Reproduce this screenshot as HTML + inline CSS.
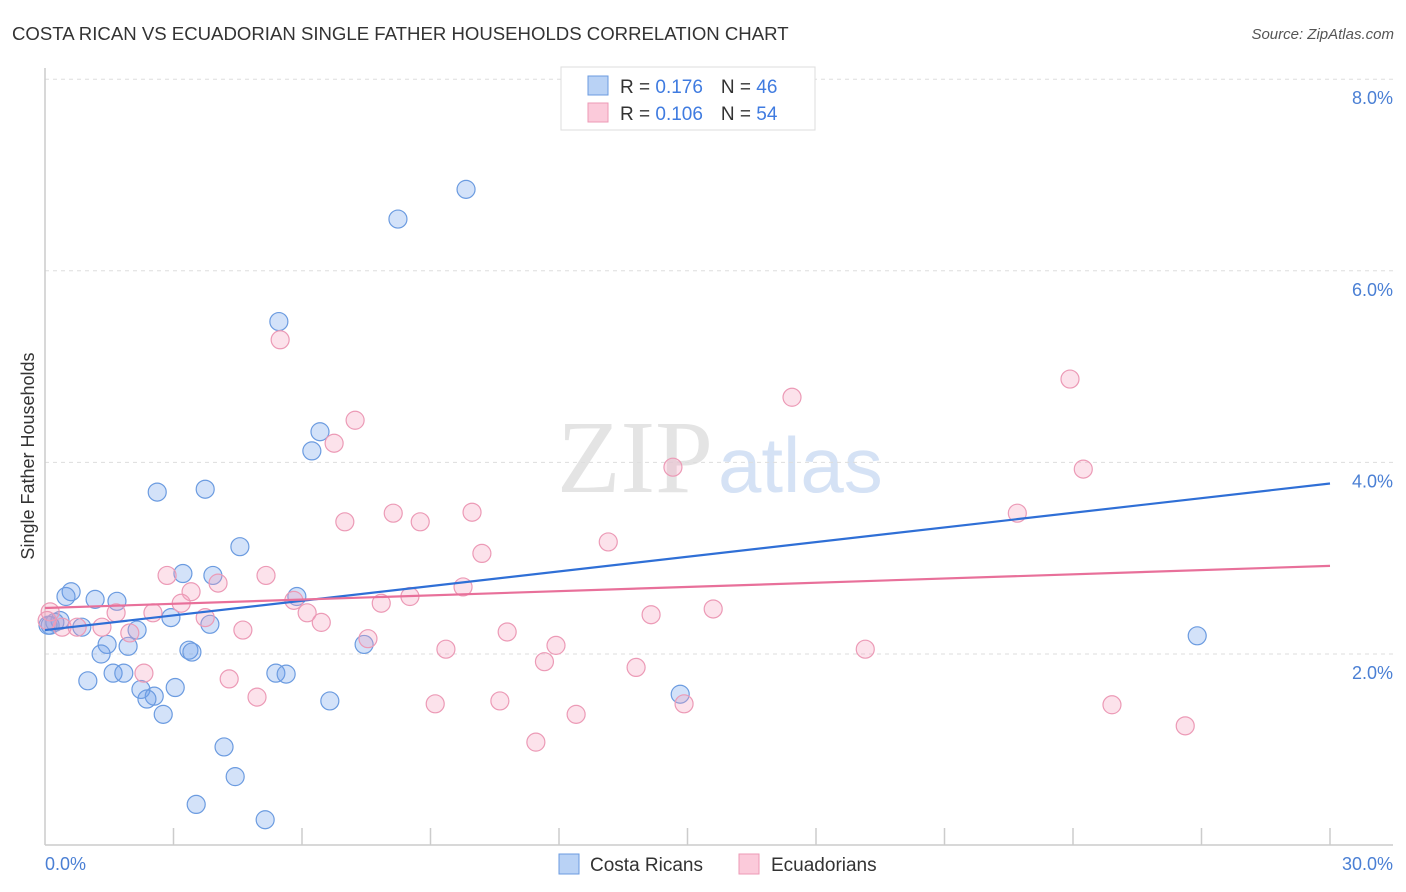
<!DOCTYPE html>
<html><head><meta charset="utf-8"><style>
body{margin:0;background:#fff;font-family:"Liberation Sans",sans-serif;}
svg{display:block}
</style></head><body>
<svg id="chart" width="1406" height="892">
<text x="12" y="40" font-size="18.6" fill="#333">COSTA RICAN VS ECUADORIAN SINGLE FATHER HOUSEHOLDS CORRELATION CHART</text>
<text x="1394" y="39" font-size="15" fill="#555" font-style="italic" text-anchor="end">Source: ZipAtlas.com</text>
<text x="713" y="492" font-size="104" fill="#e4e4e4" font-family="Liberation Serif" text-anchor="end">ZIP</text>
<text x="718" y="492" font-size="78" fill="#d5e2f5">atlas</text>
<g id="grid"></g>
<line x1="45" y1="68" x2="45" y2="845" stroke="#ccc" stroke-width="1.5"/>
<line x1="45" y1="845" x2="1393" y2="845" stroke="#ccc" stroke-width="1.5"/>
<text transform="translate(34,456) rotate(-90)" font-size="18" fill="#333" text-anchor="middle">Single Father Households</text>
<text x="45" y="870" font-size="18" fill="#4a7fd4">0.0%</text>
<text x="1393" y="870" font-size="18" fill="#4a7fd4" text-anchor="end">30.0%</text>
<g id="pts"></g>
<g id="lines"></g>
<g>
<rect x="561" y="67" width="254" height="63" fill="#fff" stroke="#ddd"/>
<rect x="588" y="76" width="20" height="19" fill="#b9d2f5" stroke="#6b9be0"/>
<rect x="588" y="103" width="20" height="19" fill="#fbcada" stroke="#ec9ab6"/>
<text x="620" y="93" font-size="19" fill="#333">R = <tspan fill="#3f7be0">0.176</tspan><tspan dx="18">N = </tspan><tspan fill="#3f7be0">46</tspan></text>
<text x="620" y="120" font-size="19" fill="#333">R = <tspan fill="#3f7be0">0.106</tspan><tspan dx="18">N = </tspan><tspan fill="#3f7be0">54</tspan></text>
</g>
<g>
<rect x="559" y="854" width="20" height="20" fill="#b9d2f5" stroke="#6b9be0"/>
<text x="590" y="871" font-size="19" fill="#333">Costa Ricans</text>
<rect x="739" y="854" width="20" height="20" fill="#fbcada" stroke="#ec9ab6"/>
<text x="771" y="871" font-size="19" fill="#333">Ecuadorians</text>
</g>
</svg>
<script>
const yTicks=[2,4,6,8];
const xTicks=[3,6,9,12,15,18,21,24,27,30];
const blueX=[9.83,8.24,5.46,6.42,6.23,2.62,3.74,4.55,3.22,3.92,0.61,0.49,1.17,1.68,5.88,2.94,3.85,2.15,0.35,0.12,0.23,0.86,1.45,1.94,1.31,3.36,3.43,7.45,26.9,1.00,1.59,1.84,5.39,5.63,2.24,2.55,2.38,3.04,6.65,14.83,2.76,4.18,4.44,3.53,5.14,0.07];
const blueY=[6.85,6.54,5.47,4.32,4.12,3.69,3.72,3.12,2.84,2.82,2.65,2.60,2.57,2.55,2.60,2.38,2.31,2.25,2.35,2.30,2.33,2.28,2.10,2.08,2.00,2.04,2.02,2.10,2.19,1.72,1.80,1.80,1.80,1.79,1.63,1.56,1.53,1.65,1.51,1.58,1.37,1.03,0.72,0.43,0.27,2.30];
const pinkX=[5.49,23.93,17.44,7.24,6.75,14.66,24.24,7.00,8.13,8.76,9.97,22.70,13.15,10.20,2.85,5.16,4.04,3.41,9.76,3.18,7.85,8.52,5.81,2.52,1.66,6.12,15.60,14.15,3.74,6.45,0.12,0.40,0.75,1.33,1.98,4.62,10.79,7.54,9.36,11.93,19.15,11.66,13.80,2.31,4.30,4.95,9.11,10.62,14.92,12.40,24.91,11.46,26.62,0.05];
const pinkY=[5.28,4.87,4.68,4.44,4.20,3.95,3.93,3.38,3.47,3.38,3.48,3.47,3.17,3.05,2.82,2.82,2.74,2.65,2.70,2.53,2.53,2.60,2.56,2.43,2.43,2.43,2.47,2.41,2.38,2.33,2.44,2.28,2.28,2.28,2.22,2.25,2.23,2.16,2.05,2.09,2.05,1.92,1.86,1.80,1.74,1.55,1.48,1.51,1.48,1.37,1.47,1.08,1.25,2.35];
const blueTrend=[2.25,3.78];
const pinkTrend=[2.48,2.92];
const NS='http://www.w3.org/2000/svg';
const X=v=>45+v/30*1285;
const Y=v=>845.6-v*95.8;
function mk(tag,attrs,parent){const e=document.createElementNS(NS,tag);for(const k in attrs)e.setAttribute(k,attrs[k]);parent.appendChild(e);return e;}
const grid=document.getElementById('grid');
yTicks.forEach(t=>{
 const l=mk('line',{x1:45,x2:1393,y1:Y(t),y2:Y(t),stroke:'#ddd','stroke-dasharray':'4,4'},grid);
 
 
 const tx=mk('text',{x:1393,y:Y(t)+25,'font-size':18,fill:'#4a7fd4','text-anchor':'end'},grid);
 tx.textContent=t.toFixed(1)+'%';
 
 
});
xTicks.forEach(t=>{
 const l=mk('line',{x1:X(t),x2:X(t),y1:828,y2:845,stroke:'#ccc','stroke-width':1.5},grid);
 
 
});
const pts=document.getElementById('pts');
blueX.forEach((x,i)=>{
 const c=mk('circle',{cx:X(x),cy:Y(blueY[i]),r:9,fill:'rgba(110,160,235,0.3)',stroke:'#6b9be0','stroke-width':1.2},pts);
 
 
});
pinkX.forEach((x,i)=>{
 const c=mk('circle',{cx:X(x),cy:Y(pinkY[i]),r:9,fill:'rgba(245,160,190,0.3)',stroke:'#ec9ab6','stroke-width':1.2},pts);
 
 
});
const lines=document.getElementById('lines');
const bl=mk('line',{x1:X(0),y1:Y(blueTrend[0]),x2:X(30),y2:Y(blueTrend[1]),stroke:'#2f6fd6','stroke-width':2.2},lines);


const pl=mk('line',{x1:X(0),y1:Y(pinkTrend[0]),x2:X(30),y2:Y(pinkTrend[1]),stroke:'#e8709a','stroke-width':2.2},lines);


</script>
</body></html>
